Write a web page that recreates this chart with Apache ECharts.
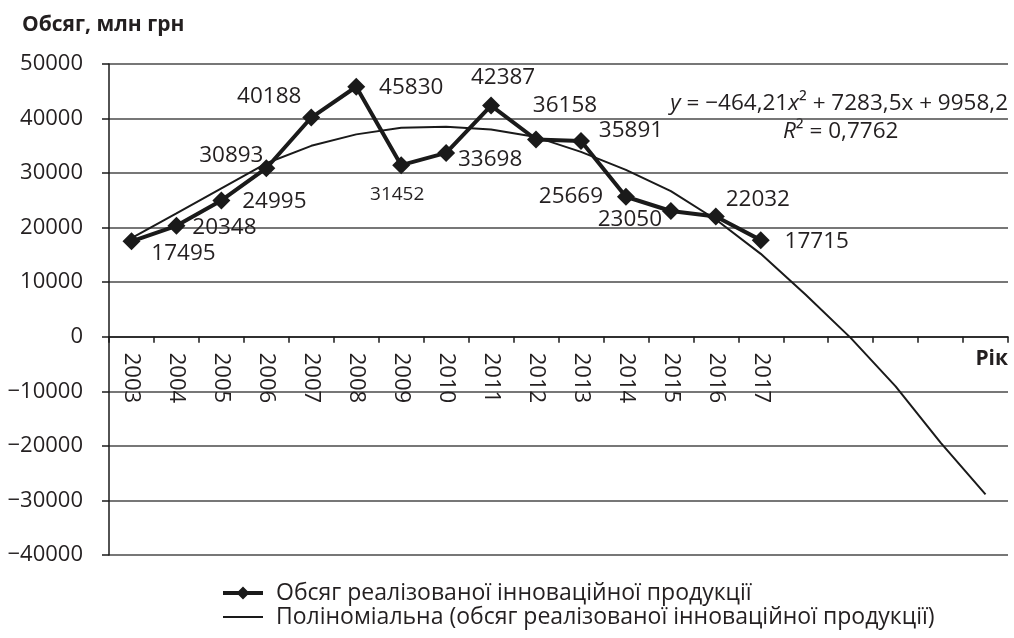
<!DOCTYPE html>
<html>
<head>
<meta charset="utf-8">
<script src="https://cdn.jsdelivr.net/npm/echarts@6/dist/echarts.min.js"></script>
<style>
html,body{margin:0;padding:0;background:#fff;}
#chart{width:1014px;height:638px;}
</style>
</head>
<body>
<div id="chart"></div>
<script>
// ---- data ----
const years = ['2003','2004','2005','2006','2007','2008','2009','2010','2011','2012','2013','2014','2015','2016','2017','','','','',''];
const volume = [17495, 20348, 24995, 30893, 40188, 45830, 31452, 33698, 42387, 36158, 35891, 25669, 23050, 22032, 17715];
const trend = [18100, 22600, 27200, 31800, 35000, 37100, 38300, 38500, 38000, 36600, 33900, 30600, 26700, 21500, 15200, 7700, -200, -9100, -19400, -28900];
const seriesNames = ['Обсяг реалізованої інноваційної продукції', 'Поліноміальна (обсяг реалізованої інноваційної продукції)'];
const yMin = -40000, yMax = 50000, yStep = 10000;

// ---- label placement (style, not data) ----
const labelOffsets = [[52,12],[48,2],[53,1],[-35,-13],[-42,-21],[55,1],[-4,29],[44,7],[12,-28],[29,-34],[50,-10],[-55,0],[-41,9],[42,-17],[56,1]];
const smallLabel = [false,false,false,false,false,false,true,false,false,false,false,false,false,false,false];

const FONT = "'Open Sans', 'Noto Sans', sans-serif";
const INK = '#231f20';
const FS = 22;

const W = 1014, H = 638;
const gridTop = 64, gridBottom = 83;
const gridH = H - gridTop - gridBottom;
// move the category axis up so that it sits on the zero value line
const zeroOffset = -gridH * (0 - yMin) / (yMax - yMin);

const chart = echarts.init(document.getElementById('chart'), null, {renderer: 'canvas'});

const volumeData = volume.map((v, i) => ({
  value: v,
  label: {
    show: true,
    position: 'inside',
    offset: labelOffsets[i],
    fontSize: smallLabel[i] ? 19 : 22.5
  }
}));

const option = {
  backgroundColor: '#fff',
  animation: false,
  title: {
    text: 'Обсяг, млн грн',
    left: 17,
    top: 10,
    textStyle: {fontFamily: FONT, fontSize: 21, fontWeight: 'bold', color: INK}
  },
  grid: {left: 109, right: 6, top: gridTop, bottom: gridBottom, containLabel: false},
  xAxis: {
    type: 'category',
    data: years,
    boundaryGap: true,
    offset: zeroOffset,
    axisLine: {onZero: false, lineStyle: {color: '#1a1a1a', width: 1.5}},
    axisTick: {show: true, interval: 0, length: 6, lineStyle: {color: '#1a1a1a', width: 1.5}},
    axisLabel: {interval: 0, rotate: -90, margin: 16, fontFamily: FONT, fontSize: FS, color: INK},
    splitLine: {show: false}
  },
  yAxis: {
    type: 'value',
    min: yMin,
    max: yMax,
    interval: yStep,
    axisLine: {show: true, lineStyle: {color: '#1a1a1a', width: 1.5}},
    axisTick: {show: true, length: 7, lineStyle: {color: '#1a1a1a', width: 1.5}},
    axisLabel: {
      margin: 26,
      fontFamily: FONT, fontSize: FS, color: INK,
      formatter: v => v < 0 ? '\u2212' + Math.abs(v) : String(v)
    },
    splitLine: {show: true, lineStyle: {color: '#4a4a4a', width: 1.5}}
  },
  legend: {
    orient: 'vertical',
    left: 218,
    top: 576,
    itemWidth: 40,
    itemHeight: 16,
    itemGap: 0,
    data: [
      {name: seriesNames[0], icon: 'path://M0,6 L15.5,6 L20,1.5 L24.5,6 L40,6 L40,10 L24.5,10 L20,14.5 L15.5,10 L0,10 Z'},
      {name: seriesNames[1], icon: 'path://M0,0 L40,0 L40,2 L0,2 Z'}
    ],
    itemStyle: {color: '#1a1a1a'},
    textStyle: {fontFamily: FONT, fontSize: 23, color: INK, lineHeight: 24, padding: [0,0,0,8]}
  },
  series: [
    {
      name: seriesNames[1],
      type: 'line',
      data: trend,
      showSymbol: false,
      symbol: 'none',
      lineStyle: {color: '#1a1a1a', width: 2},
      itemStyle: {color: '#1a1a1a'},
      z: 2
    },
    {
      name: seriesNames[0],
      type: 'line',
      data: volumeData,
      symbol: 'diamond',
      symbolSize: 18,
      lineStyle: {color: '#1a1a1a', width: 4},
      itemStyle: {color: '#1a1a1a'},
      label: {
        show: true,
        fontFamily: FONT,
        color: INK,
        align: 'center',
        verticalAlign: 'middle'
      },
      z: 3
    }
  ],
  graphic: [
    {
      type: 'text',
      right: 6,
      top: 92,
      style: {
        text: '{i|y} = \u2212464,21{i|x}\u00b2 + 7283,5x + 9958,2',
        fontFamily: FONT, fontSize: 22.5, fill: INK,
        rich: {i: {fontStyle: 'italic', fontFamily: FONT, fontSize: 22.5, color: INK}}
      }
    },
    {
      type: 'text',
      left: 783,
      top: 120,
      style: {
        text: '{i|R}\u00b2 = 0,7762',
        fontFamily: FONT, fontSize: 22.5, fill: INK,
        rich: {i: {fontStyle: 'italic', fontFamily: FONT, fontSize: 22.5, color: INK}}
      }
    },
    {
      type: 'text',
      right: 6,
      top: 349,
      style: {
        text: 'Рік',
        fontFamily: FONT, fontSize: 21, fontWeight: 'bold', fill: INK
      }
    }
  ]
};

chart.setOption(option);
</script>
</body>
</html>
